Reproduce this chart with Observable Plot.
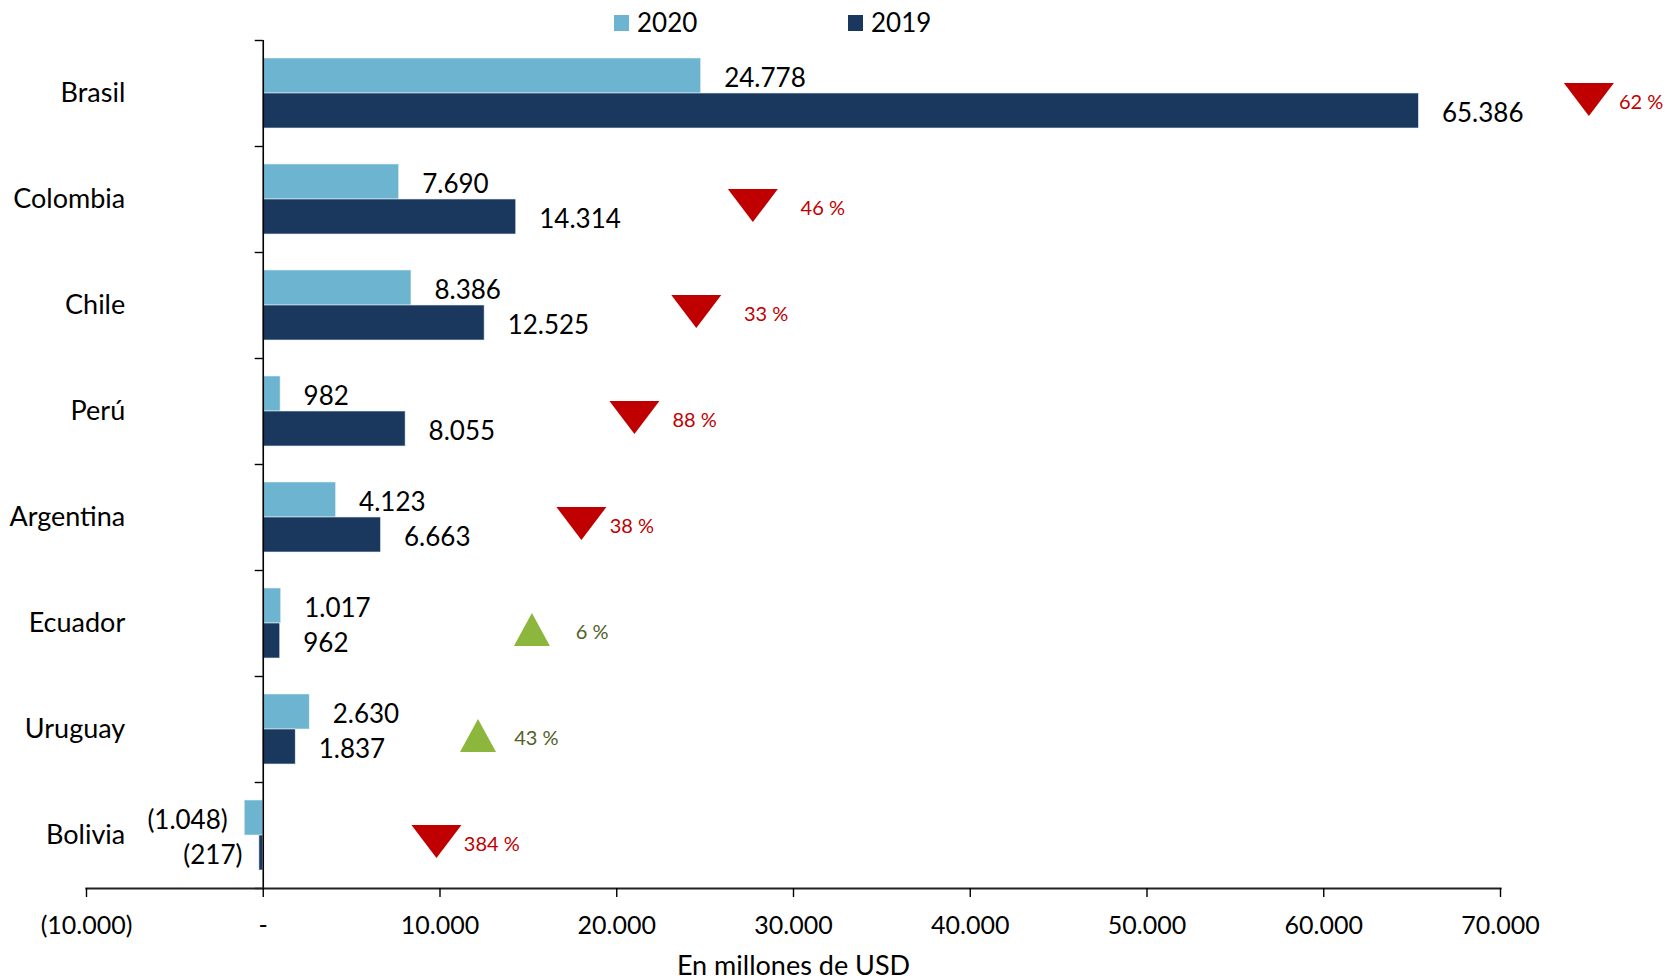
<!DOCTYPE html>
<html><head><meta charset="utf-8">
<script src="https://cdn.jsdelivr.net/npm/d3@7"></script>
<script src="https://cdn.jsdelivr.net/npm/@observablehq/plot@0.6"></script>
<style>
body{margin:0;background:#fff;font-family:Lato,sans-serif;}
#legend{height:36px;position:relative;width:1667px;}
.sw{position:absolute;top:15px;width:15px;height:16px;}
.lt{position:absolute;top:8px;font-size:26px;line-height:28px;color:#000;}
</style></head>
<body>
<div id="legend">
  <div class="sw" style="left:614px;background:#6cb4d0"></div><div class="lt" style="left:637px">2020</div>
  <div class="sw" style="left:848px;background:#1a385e"></div><div class="lt" style="left:871px">2019</div>
</div>
<div id="chart"></div>
<script>
const countries = ["Brasil","Colombia","Chile","Perú","Argentina","Ecuador","Uruguay","Bolivia"];
const values2020 = [24778, 7690, 8386, 982, 4123, 1017, 2630, -1048];
const values2019 = [65386, 14314, 12525, 8055, 6663, 962, 1837, -217];
const changePct = [62, 46, 33, 88, 38, 6, 43, 384];
const changeDir = ["down","down","down","down","down","up","up","down"];
const markerX = [75000, 27700, 24500, 21000, 18000, 15200, 12150, 9800];
const pctLabelX = [76700, 30400, 27200, 23150, 19600, 17680, 14200, 11350];
const xTicks = [-10000, 0, 10000, 20000, 30000, 40000, 50000, 60000, 70000];
const axisLabel = "En millones de USD";

const loc = d3.formatLocale({decimal: ",", thousands: ".", grouping: [3], currency: ["", ""]});
const f = loc.format(",d");
const fmt = v => v === 0 ? "-" : v < 0 ? `(${f(-v)})` : f(v);

const rows = countries.map((c, i) => ({
  country: c, v2020: values2020[i], v2019: values2019[i],
  pct: changePct[i], dir: changeDir[i], mx: markerX[i], lx: pctLabelX[i]
}));

const H = 943, MT = 4, MB = 91;
const bandH = (H - MT - MB) / countries.length;

const downTri = {draw(ctx, size) { const r = Math.sqrt(size / Math.PI); const h = r * 1.32;
  ctx.moveTo(-r, -h / 2); ctx.lineTo(r, -h / 2); ctx.lineTo(0, h / 2); ctx.closePath(); }};
const upTri = {draw(ctx, size) { const r = Math.sqrt(size / Math.PI); const h = r * 1.32; const w = r * 0.72;
  ctx.moveTo(-w, h / 2); ctx.lineTo(w, h / 2); ctx.lineTo(0, -h / 2); ctx.closePath(); }};

const red = "#c00000", green = "#8db63c", greenText = "#4f6228";
const pos = k => rows.filter(d => d[k] >= 0), neg = k => rows.filter(d => d[k] < 0);

const chart = Plot.plot({
  width: 1667, height: H, marginTop: MT, marginBottom: MB, marginLeft: 86, marginRight: 167,
  style: {fontFamily: "Lato, sans-serif", background: "white", color: "black", overflow: "visible"},
  x: {domain: [-10000, 70000]},
  y: {domain: countries, padding: 0, axis: null},
  marks: [
    Plot.barX(rows, {y: "country", x: "v2020", fill: "#6cb4d0", insetTop: 18, insetBottom: 53, stroke: "#e8f2f7", strokeWidth: 0.6}),
    Plot.barX(rows, {y: "country", x: "v2019", fill: "#1a385e", insetTop: 53, insetBottom: 18, stroke: "#e8f2f7", strokeWidth: 0.6}),
    Plot.ruleX([0], {stroke: "black", strokeWidth: 1.6}),
    Plot.ruleY(countries, {y: d => d, x1: 0, x2: 0, insetLeft: -8, dy: -bandH / 2, stroke: "black", strokeWidth: 1.4}),
    Plot.ruleY(countries.slice(-1), {y: d => d, x1: 0, x2: 0, insetLeft: -8, dy: bandH / 2, stroke: "black", strokeWidth: 1.4}),
    Plot.frame({anchor: "bottom", stroke: "#222", strokeWidth: 2.2}),
    Plot.axisX({ticks: xTicks, tickFormat: fmt, tickSize: 9, tickPadding: 19, fontSize: 25, label: null, stroke: "black", strokeWidth: 1.4}),
    Plot.text([axisLabel], {frameAnchor: "bottom", dy: 86, fontSize: 27, fill: "black"}),
    Plot.text(rows, {y: "country", x: 0, text: "country", textAnchor: "end", dx: -138, fontSize: 27, fill: "black"}),
    Plot.text(pos("v2020"), {y: "country", x: "v2020", text: d => fmt(d.v2020), textAnchor: "start", dx: 23, dy: -15, fontSize: 26, fill: "black"}),
    Plot.text(neg("v2020"), {y: "country", x: "v2020", text: d => fmt(d.v2020), textAnchor: "end", dx: -17, dy: -15, fontSize: 26, fill: "black"}),
    Plot.text(pos("v2019"), {y: "country", x: "v2019", text: d => fmt(d.v2019), textAnchor: "start", dx: 23, dy: 20, fontSize: 26, fill: "black"}),
    Plot.text(neg("v2019"), {y: "country", x: "v2019", text: d => fmt(d.v2019), textAnchor: "end", dx: -17, dy: 20, fontSize: 26, fill: "black"}),
    Plot.dot(rows.filter(d => d.dir === "down"), {y: "country", x: "mx", symbol: downTri, r: 25, fill: red, stroke: "none", dy: 6}),
    Plot.dot(rows.filter(d => d.dir === "up"), {y: "country", x: "mx", symbol: upTri, r: 25, fill: green, stroke: "none", dy: 6}),
    Plot.text(rows.filter(d => d.dir === "down"), {y: "country", x: "lx", text: d => `${d.pct} %`, textAnchor: "start", dy: 9, fontSize: 20, fill: red}),
    Plot.text(rows.filter(d => d.dir === "up"), {y: "country", x: "lx", text: d => `${d.pct} %`, textAnchor: "start", dy: 9, fontSize: 20, fill: greenText})
  ]
});
document.getElementById("chart").appendChild(chart);
</script>
</body></html>
